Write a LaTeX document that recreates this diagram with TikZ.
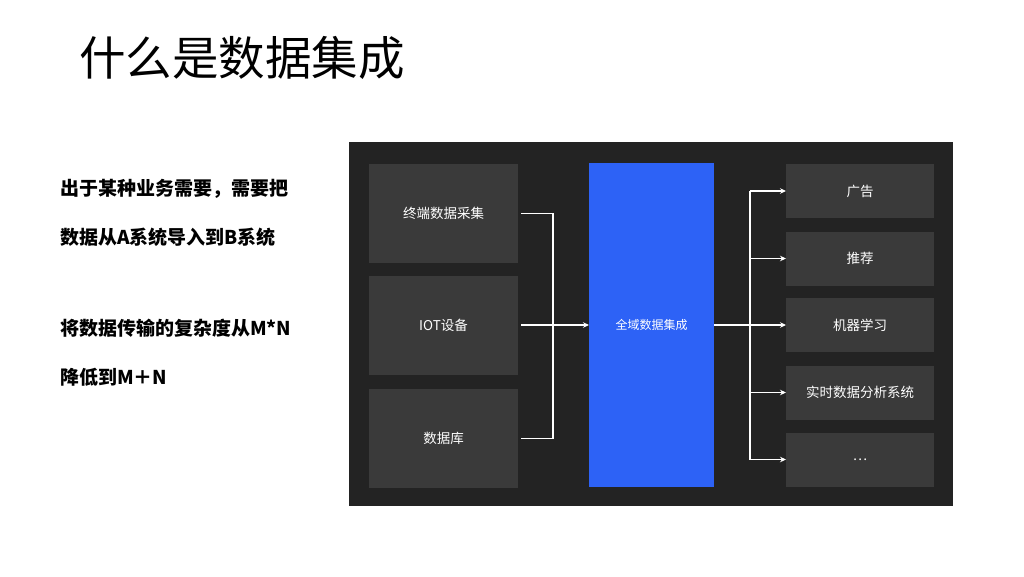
\documentclass[tikz,border=0pt]{standalone}
\usepackage{fontspec}
\setmainfont{Noto Sans CJK SC}
\usetikzlibrary{arrows.meta, positioning}
\definecolor{panelbg}{RGB}{35,35,35}
\definecolor{boxbg}{RGB}{58,58,58}
\definecolor{hubblue}{RGB}{45,98,246}

\begin{document}
\begin{tikzpicture}[
    x=1pt, y=-1pt,
    every node/.style={inner sep=0pt, outer sep=0pt},
    srcbox/.style={fill=boxbg, minimum width=149pt, minimum height=99pt, text=white, font=\fontsize{13.5}{16}\selectfont},
    dstbox/.style={fill=boxbg, minimum width=148pt, minimum height=54pt, text=white, font=\fontsize{13.5}{16}\selectfont},
    line/.style={draw=white, line width=1.3pt},
    arr/.style={line, -{Stealth[length=6pt, width=5.5pt]}},
    say/.style={anchor=west, font=\fontsize{19}{22}\selectfont\bfseries}
]
\useasboundingbox[fill=white] (0,0) rectangle (1024,576);

% Title and text on the left
\node[anchor=west, font=\fontsize{46.5}{50}\selectfont] (title) at (79,58) {什么是数据集成};
\node[say] (say1) at (60,189) {出于某种业务需要，需要把};
\node[say] (say2) at (60,237) {数据从A系统导入到B系统};
\node[say] (say3) at (60,328) {将数据传输的复杂度从M*N};
\node[say] (say4) at (60,377) {降低到M＋N};

% Dark panel
\fill[panelbg] (349,142) rectangle (953,506);

% Sources
\node[srcbox] (src1) at (443.5,213.5) {终端数据采集};
\node[srcbox] (src2) at (443.5,325) {IOT设备};
\node[srcbox] (src3) at (443.5,438.5) {数据库};

% Hub
\node[fill=hubblue, minimum width=125pt, minimum height=324pt, text=white, font=\fontsize{12}{14}\selectfont] (hub) at (651.5,325) {全域数据集成};

% Targets
\node[dstbox] (dst1) at (860,191) {广告};
\node[dstbox] (dst2) at (860,258.5) {推荐};
\node[dstbox] (dst3) at (860,325) {机器学习};
\node[dstbox] (dst4) at (860,392.5) {实时数据分析系统};
\node[dstbox] (dst5) at (860,459.5) {\ldots};

% Connectors
\coordinate (jl) at (553,325);
\coordinate (jr) at (750,325);
\draw[line] ([xshift=3pt]src1.east) -| (jl) |- ([xshift=3pt]src3.east);
\draw[arr] ([xshift=3pt]src2.east) -- (hub.west);
\draw[line] (hub.east) -- (jr);
\draw[line] (jr |- dst1.west) -- (jr |- dst5.west);
\foreach \i in {1,...,5}
    { \draw[arr] (jr |- dst\i.west) -- (dst\i.west); }
\end{tikzpicture}
\end{document}
